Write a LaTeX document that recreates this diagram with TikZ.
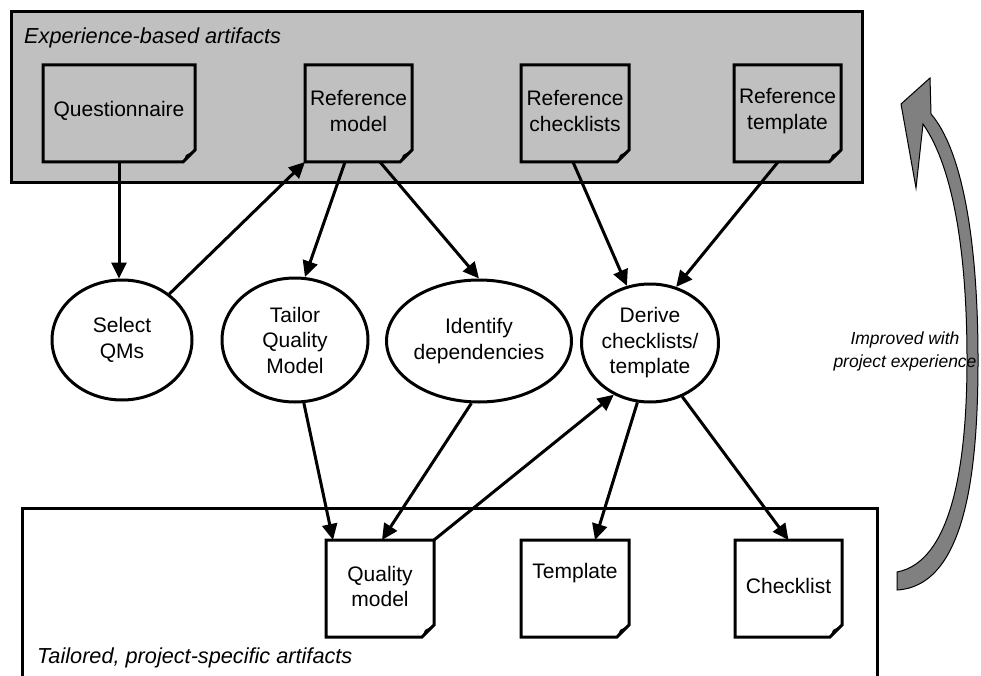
\documentclass[tikz,border=0pt]{standalone}
\usepackage{fontspec}
\setmainfont{Liberation Sans}
\usetikzlibrary{arrows.meta,shapes.geometric}
\definecolor{boxgray}{HTML}{C0C0C0}
\definecolor{arrgray}{HTML}{808080}
\newcommand\docoutline[2]{%
  \draw[line width=3pt, line join=miter, fill=#2]
    (#1.north west) -- (#1.north east) -- ([yshift=12pt]#1.south east)
    -- ([xshift=-12pt]#1.south east) -- (#1.south west) -- cycle;
  \fill ([xshift=-12pt]#1.south east) -- ([xshift=-9pt,yshift=7pt]#1.south east)
    -- ([yshift=12pt]#1.south east) -- ([xshift=-4pt,yshift=7pt]#1.south east) -- cycle;
}
\begin{document}
\begin{tikzpicture}[x=1pt,y=-1pt,
  txt/.style={font=\fontsize{21}{25.5}\selectfont, align=center},
  docnode/.style={txt, draw=none, inner sep=0pt, outer sep=0pt, minimum height=97pt},
  proc/.style={txt, ellipse, draw, line width=3pt, fill=white, inner sep=0pt},
  lab/.style={font=\fontsize{21.7}{25}\selectfont\itshape, inner sep=0pt},
  arr/.style={line width=3pt, -{Triangle[length=16pt,width=15pt]}}]
\useasboundingbox (0,0) rectangle (981,676);
\fill[white] (0,0) rectangle (981,676);

% frames
\draw[line width=3pt, fill=boxgray] (11,12) rectangle (862,183);
\draw[line width=3pt] (22,690) -- (22,508) -- (877,508) -- (877,690);
\node[lab, anchor=west] (toplab) at (24,38) {Experience-based artifacts};
\node[lab, anchor=west] (botlab) at (37,658) {Tailored, project-specific artifacts};

% document nodes
\node[docnode, minimum width=152pt] (q)  at (119,113.5) {};
\node[docnode, minimum width=107pt] (rm) at (358.5,113.5) {};
\node[docnode, minimum width=108pt] (rc) at (575,113.5) {};
\node[docnode, minimum width=107pt] (rt) at (787.5,113.5) {};
\node[docnode, minimum width=108pt] (qm) at (380,588.5) {};
\node[docnode, minimum width=108pt] (tp) at (575,588.5) {};
\node[docnode, minimum width=107pt] (cl) at (788.5,588.5) {};
\docoutline{q}{boxgray}
\docoutline{rm}{boxgray}
\docoutline{rc}{boxgray}
\docoutline{rt}{boxgray}
\docoutline{qm}{white}
\docoutline{tp}{white}
\docoutline{cl}{white}
\node[txt] (qt)  at (119,111) {Questionnaire};
\node[txt] (rmt) at (358.5,111) {Reference\\model};
\node[txt] (rct) at (575,111) {Reference\\checklists};
\node[txt] (rtt) at (787.5,111) {Reference\\template};
\node[txt] (qmt) at (380,586.5) {Quality\\model};
\node[txt] (tpt) at (575,573) {Template};
\node[txt] (clt) at (788.5,585.5) {Checklist};

% process ellipses
\node[proc, minimum width=140pt, minimum height=120pt] (sel) at (122,340) {Select\\QMs};
\node[proc, minimum width=146pt, minimum height=124pt] (tq)  at (295,340) {Tailor\\Quality\\Model};
\node[proc, minimum width=152pt, minimum height=122pt] (id)  at (479,341) {Identify\\dependencies};
\node[proc, minimum width=136pt, minimum height=118pt] (dv)  at (650,343) {Derive\\checklists/\\template};

% connectors
\draw[arr] (q.south) -- (q.south |- sel.north);
\draw[arr] (sel) -- (rm.south west);
\draw[arr] ([xshift=-13.5pt]rm.south) -- (tq.81);
\draw[arr] ([xshift=21.5pt]rm.south) -- (id.north);
\draw[arr] ([xshift=-2pt]rc.south) -- (dv.112);
\draw[arr] ([xshift=-9.5pt]rt.south) -- (dv.65);
\draw[arr] (tq.-82) -- ([xshift=-47pt]qm.north);
\draw[arr] (id.-97) -- ([xshift=2pt]qm.north);
\draw[arr] (qm.north east) -- (dv.-125);
\draw[arr] (dv.-102) -- ([xshift=20pt]tp.north);
\draw[arr] (dv.-59) -- (cl.north);

% improvement arrow
\draw[line width=1pt, fill=arrgray, line join=miter]
  (930,78) -- (901,104) -- (916,188) -- (923,124)
  .. controls (955,170) and (967,260) .. (967,360)
  .. controls (967,470) and (950,562) .. (897,572)
  -- (897,590)
  .. controls (966,586) and (978,470) .. (978,360)
  .. controls (978,240) and (962,150) .. (931,114) -- cycle;
\node[font=\fontsize{17.5}{23}\selectfont\itshape, align=center, inner sep=0pt] (imp) at (905,351) {Improved with\\project experience};
\end{tikzpicture}
\end{document}
